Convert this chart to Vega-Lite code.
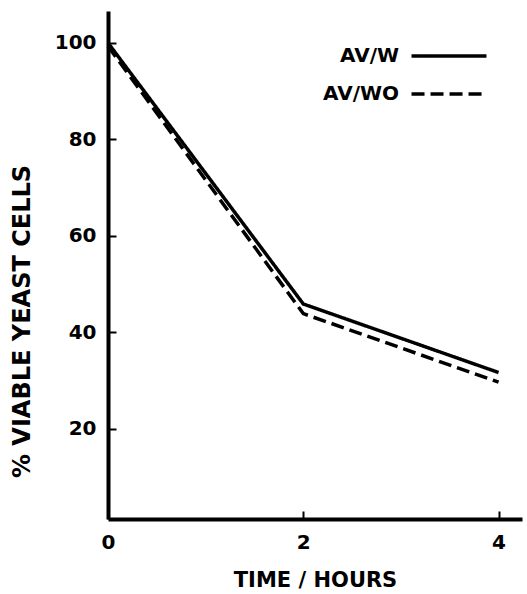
{
  "$schema": "https://vega.github.io/schema/vega-lite/v6.json",
  "width": 414,
  "height": 508,
  "autosize": {"type": "none"},
  "padding": {"left": 108, "top": 11, "right": 5, "bottom": 75},
  "background": "white",
  "config": {
    "view": {"stroke": null},
    "font": "DejaVu Sans",
    "axis": {
      "domainColor": "black",
      "domainWidth": 4,
      "tickColor": "black",
      "tickWidth": 2,
      "grid": false,
      "labelFont": "DejaVu Sans",
      "labelFontSize": 20,
      "labelFontWeight": "bold",
      "labelColor": "black",
      "labelFlush": false,
      "titleFont": "DejaVu Sans",
      "titleFontSize": 21,
      "titleFontWeight": "bold",
      "titleColor": "black"
    }
  },
  "data": {
    "values": [
      {"time": 0, "pct": 100, "series": "AV/W"},
      {"time": 2, "pct": 45.9, "series": "AV/W"},
      {"time": 4, "pct": 31.7, "series": "AV/W"},
      {"time": 0, "pct": 99.3, "series": "AV/WO"},
      {"time": 2, "pct": 43.9, "series": "AV/WO"},
      {"time": 4, "pct": 29.7, "series": "AV/WO"}
    ]
  },
  "mark": {"type": "line", "strokeWidth": 3.5, "strokeCap": "butt", "color": "black"},
  "encoding": {
    "x": {
      "field": "time",
      "type": "quantitative",
      "scale": {"domain": [0, 4.24], "nice": false, "zero": false},
      "axis": {
        "values": [0, 2, 4],
        "tickSize": -8,
        "labelPadding": 21,
        "title": "TIME / HOURS",
        "titlePadding": 17
      }
    },
    "y": {
      "field": "pct",
      "type": "quantitative",
      "scale": {"domain": [1.35, 106.6], "nice": false, "zero": false},
      "axis": {
        "values": [20, 40, 60, 80, 100],
        "tickSize": -8,
        "labelPadding": 20,
        "title": "% VIABLE YEAST CELLS",
        "titleFontSize": 24,
        "titleX": -86,
        "titleY": 310,
        "titleAlign": "center",
        "titleBaseline": "middle"
      }
    },
    "strokeDash": {
      "field": "series",
      "type": "nominal",
      "scale": {"domain": ["AV/W", "AV/WO"], "range": [[1, 0], [13, 6]]},
      "legend": {
        "title": null,
        "orient": "none",
        "legendX": 331,
        "legendY": 35,
        "symbolType": "M-6,0H6",
        "symbolSize": 156,
        "symbolStrokeWidth": 3.5,
        "symbolStrokeColor": "black",
        "labelFont": "DejaVu Sans",
        "labelFontSize": 20,
        "labelFontWeight": "bold",
        "labelColor": "black",
        "labelAlign": "right",
        "labelOffset": -60,
        "rowPadding": 18
      }
    }
  }
}
